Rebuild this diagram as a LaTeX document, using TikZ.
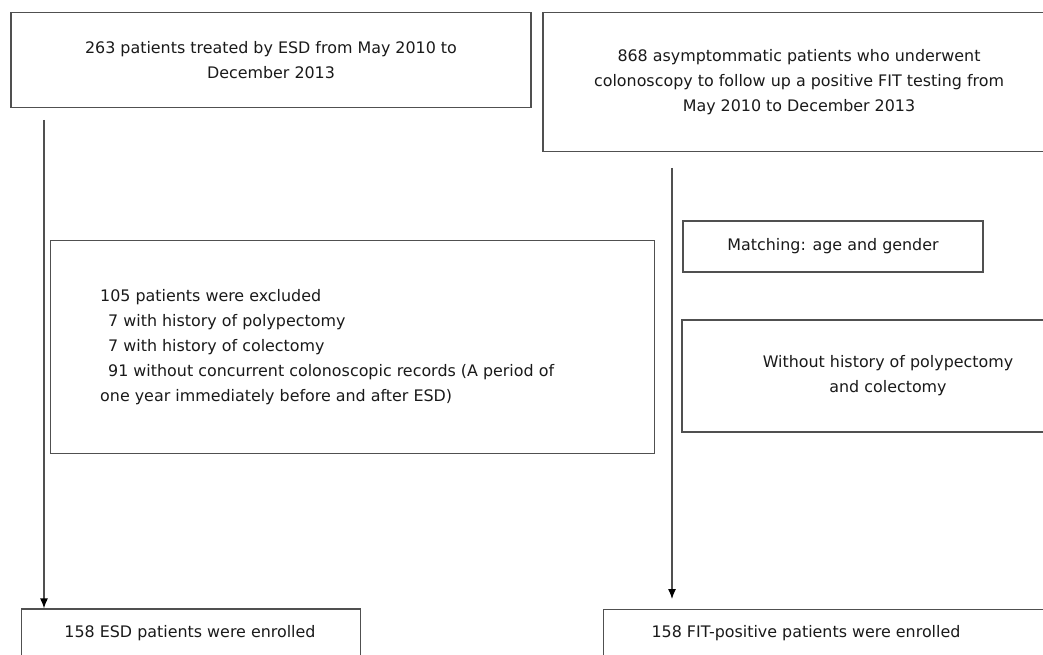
\documentclass[tikz,border=0pt]{standalone}
\usepackage{fontspec}
\setmainfont{DejaVu Sans}
\usetikzlibrary{arrows.meta}
\definecolor{edge}{HTML}{505050}
\definecolor{ink}{HTML}{1A1A1A}
\begin{document}
\begin{tikzpicture}[x=1pt,y=-1pt,
  box/.style={draw=edge, line width=1.2pt, inner sep=0pt, text=ink,
    font=\fontsize{15.9}{25}\selectfont, align=center},
  txt/.style={inner sep=0pt, text=ink, font=\fontsize{15.9}{25}\selectfont},
  conn/.style={draw=edge, line width=1.2pt, -{Latex[length=10pt,width=8pt,color=black]}}]
\clip (0,0) rectangle (1043,655);
\fill[white] (0,0) rectangle (1043,655);
\node[box, minimum width=520, minimum height=95] (b1) at (271,60)
  {263 patients treated by ESD from May 2010 to\\December 2013};
\node[box, minimum width=512, minimum height=139.5] (b2) at (799,82)
  {868 asymptommatic patients who underwent\\colonoscopy to follow up a positive FIT testing from\\May 2010 to December 2013};
\node[box, minimum width=603.5, minimum height=212.5] (b3) at (352.5,347) {};
\node[txt, align=left, anchor=west] (t3) at (100,347)
  {105 patients were excluded\\
   \hspace*{8pt}7 with history of polypectomy\\
   \hspace*{8pt}7 with history of colectomy\\
   \hspace*{8pt}91 without concurrent colonoscopic records (A period of\\
   one year immediately before and after ESD)};
\node[box, minimum width=300, minimum height=51] (m) at (833,246.5)
  {Matching: age and gender};
\node[box, minimum width=412, minimum height=112] (w) at (888,376)
  {Without history of polypectomy\\and colectomy};
\node[box, minimum width=339, minimum height=52] (b4) at (191,635)
  {};
\node[txt] (t4) at (190,633) {158 ESD patients were enrolled};
\node[box, minimum width=500, minimum height=52, anchor=north west] (b5) at (603,609) {};
\node[txt] (t5) at (806,633) {158 FIT-positive patients were enrolled};
\coordinate (l1) at (44,120);
\coordinate (r1) at (672,168);
\coordinate (r2) at (672,599);
\draw[conn] (l1) -- (l1 |- b4.north);
\draw[conn] (r1) -- (r2);
\end{tikzpicture}
\end{document}
